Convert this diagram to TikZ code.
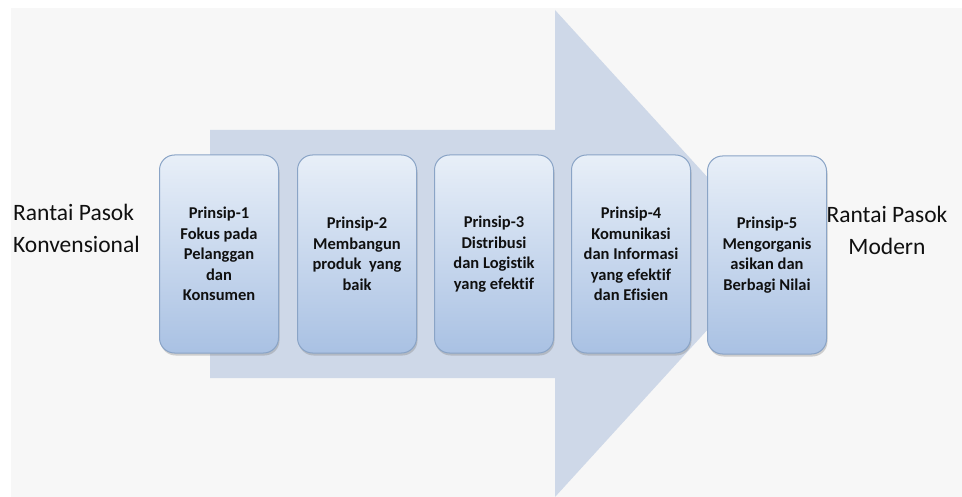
\documentclass[tikz,border=0pt]{standalone}
\usepackage{fontspec}
\setmainfont{Carlito}[Ligatures={NoCommon}]
\usetikzlibrary{shadows}
\definecolor{bgc}{HTML}{F7F7F7}
\definecolor{arrowc}{HTML}{CED8E8}
\definecolor{boxtop}{HTML}{E8EFF8}
\definecolor{boxbot}{HTML}{A9C1E3}
\definecolor{boxline}{HTML}{8AA4C6}
\definecolor{txt}{HTML}{101010}
\tikzset{
  prinsip/.style={draw=boxline, line width=1pt, rounded corners=15pt,
    top color=boxtop, bottom color=boxbot,
    minimum width=119pt, minimum height=198pt, inner sep=2pt,
    align=center, text=txt,
    font=\fontsize{16.5}{20.5}\selectfont\bfseries,
    drop shadow={opacity=0.35, shadow xshift=1pt, shadow yshift=-2.5pt}},
  sidelabel/.style={text=txt, font=\fontsize{23.5}{32}\selectfont, inner sep=0pt}
}
\begin{document}
\begin{tikzpicture}[x=1pt,y=-1pt]
\useasboundingbox (0,0) rectangle (962,497);
\fill[white] (0,0) rectangle (962,497);
\fill[bgc] (11,8) rectangle (962,497);
% big arrow
\fill[arrowc] (210,130) -- (555,130) -- (555,10) -- (777,253.5) -- (555,497) -- (555,378) -- (210,378) -- cycle;
% side labels
\node[sidelabel, align=left, anchor=west] (left) at (13,228) {Rantai Pasok\\Konvensional};
\node[sidelabel, align=center] (right) at (887,230) {Rantai Pasok\\Modern};
% boxes
\node[prinsip] (p1) at (219,254) {Prinsip-1\\Fokus pada\\Pelanggan\\dan\\Konsumen};
\node[prinsip] (p2) at (357,254) {Prinsip-2\\Membangun\\produk~ yang\\baik};
\node[prinsip] (p3) at (494,254) {Prinsip-3\\Distribusi\\dan Logistik\\yang efektif};
\node[prinsip] (p4) at (631,254) {Prinsip-4\\Komunikasi\\dan Informasi\\yang efektif\\dan Efisien};
\node[prinsip] (p5) at (767,255) {Prinsip-5\\Mengorganis\\asikan dan\\Berbagi Nilai};
\end{tikzpicture}
\end{document}
